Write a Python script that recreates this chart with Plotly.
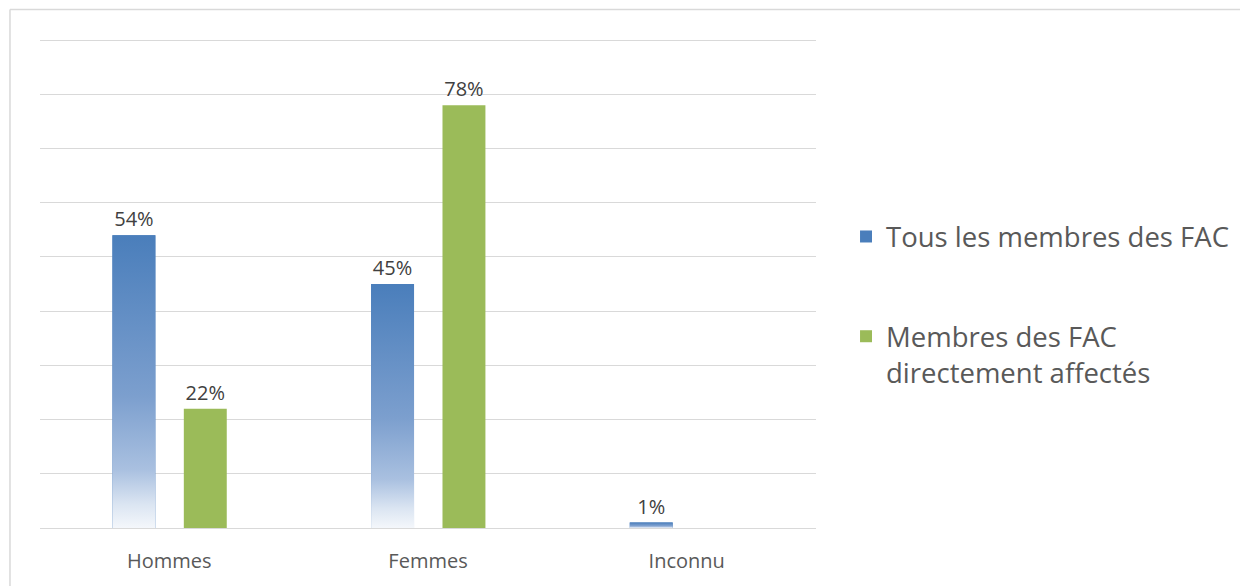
import plotly.graph_objects as go

categories = ["Hommes", "Femmes", "Inconnu"]
tous_membres = [54, 45, 1]
directement_affectes = [22, 78, 0]
series_names = ["Tous les membres des FAC", "Membres des FAC<br>directement affectés"]
y_max = 90.2
y_step = 10

BLUE = "#4a7ebb"
GREEN = "#9bbb59"
BAR_W = 0.166
BLUE_OFF = -0.22
GREEN_OFF = 0.056

xpos = list(range(len(categories)))

fig = go.Figure()

fig.add_trace(go.Bar(
    x=xpos, y=tous_membres, name=series_names[0], legendgroup="a",
    width=BAR_W, offset=BLUE_OFF, marker=dict(color=BLUE, line=dict(width=0)),
    text=[f"{v}%" for v in tous_membres], textposition="outside",
    textfont=dict(family="Open Sans", size=20, color="#404040"),
    cliponaxis=False,
))
fig.add_trace(go.Bar(
    x=xpos, y=directement_affectes, name=series_names[1], legendgroup="b",
    width=BAR_W, offset=GREEN_OFF, marker=dict(color=GREEN, line=dict(width=0)),
    text=[f"{v}%" if v > 0 else "" for v in directement_affectes], textposition="outside",
    textfont=dict(family="Open Sans", size=20, color="#404040"),
    cliponaxis=False,
))

# gradient overlay for the blue series (drawn from the same data)
for i, v in zip(xpos, tous_membres):
    x0 = i + BLUE_OFF
    x1 = x0 + BAR_W
    fig.add_trace(go.Scatter(
        x=[x0, x0, x1, x1, x0], y=[0, v, v, 0, 0],
        mode="lines", line=dict(width=0), fill="toself",
        fillgradient=dict(type="vertical", colorscale=[
            [0.0, "#f4f7fb"], [0.08, "#dbe5f2"], [0.2, "#a9c0e0"],
            [0.45, "#7c9fce"], [1.0, BLUE]]),
        showlegend=False, hoverinfo="skip",
    ))

fig.update_layout(
    width=1240, height=578,
    margin=dict(l=32, r=432, t=31, b=53),
    paper_bgcolor="white", plot_bgcolor="white",
    font=dict(family="Open Sans", color="#595959"),
    showlegend=True,
    legend=dict(
        x=1.0387, xanchor="left", y=0.646, yanchor="top",
        font=dict(family="Open Sans", size=27.5, color="#595959"),
        tracegroupgap=61, valign="top", bgcolor="rgba(0,0,0,0)",
    ),
    xaxis=dict(
        range=[-0.5, 2.5], tickvals=xpos, ticktext=categories,
        showgrid=False, zeroline=False, showline=False, ticks="",
        tickfont=dict(family="Open Sans", size=20, color="#595959"),
        ticklabelstandoff=19,
    ),
    yaxis=dict(
        range=[0, y_max], dtick=y_step, showticklabels=False,
        showgrid=True, gridcolor="#d9d9d9", gridwidth=1,
        zeroline=True, zerolinecolor="#d9d9d9", zerolinewidth=1,
        showline=False, ticks="",
    ),
    shapes=[
        dict(type="line", xref="paper", yref="paper",
             x0=-0.0387, x1=-0.0387, y0=-0.2, y1=1.0603,
             line=dict(color="#d9d9d9", width=1.5)),
        dict(type="line", xref="paper", yref="paper",
             x0=-0.0387, x1=1.6, y0=1.0603, y1=1.0603,
             line=dict(color="#d9d9d9", width=1.5)),
    ],
)

fig.write_html("out.html")
